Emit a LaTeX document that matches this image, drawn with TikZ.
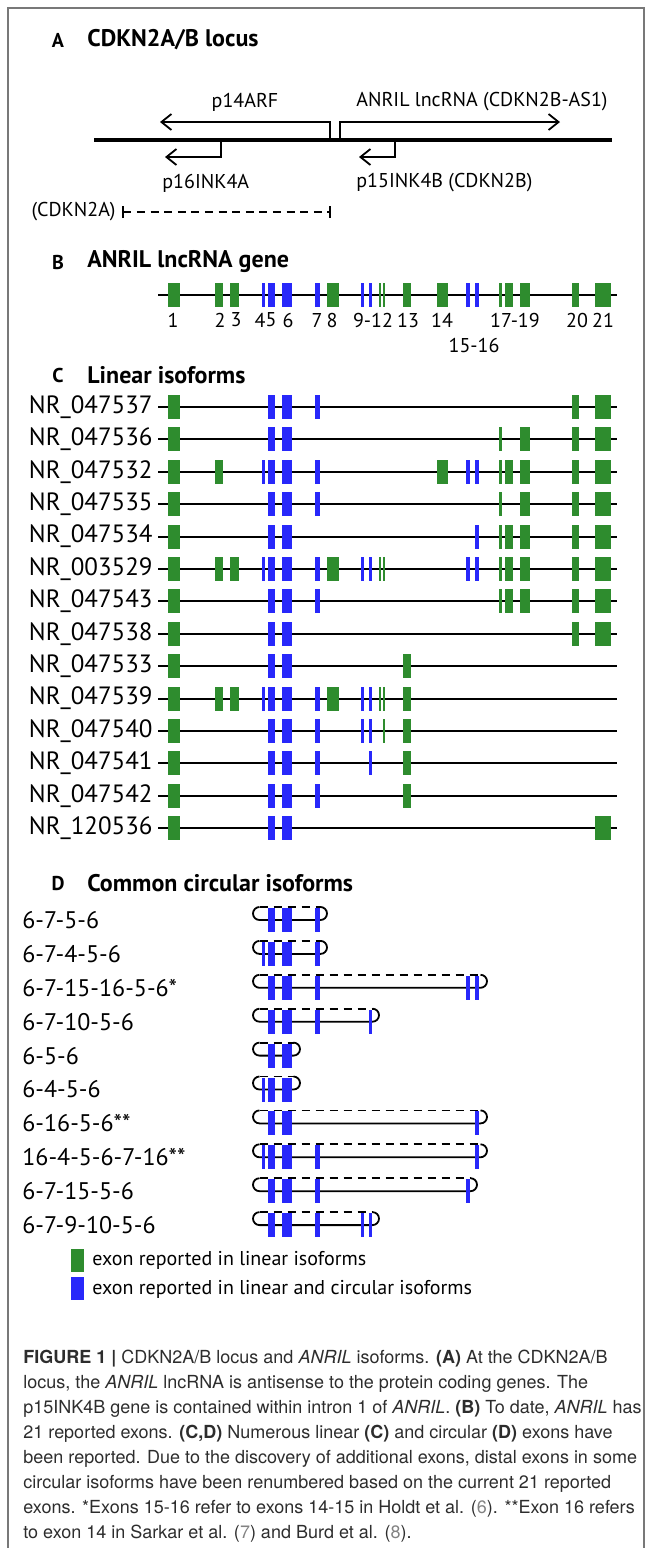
\documentclass[tikz,border=0pt]{standalone}
\usepackage{fontspec}
\setmainfont{PT Sans}
\newfontfamily\capfont{TeX Gyre Heros}
\usetikzlibrary{arrows.meta}

\definecolor{exgreen}{RGB}{46,140,46}
\definecolor{exblue}{RGB}{40,40,250}
\definecolor{framegray}{RGB}{120,120,120}
\definecolor{captext}{RGB}{45,45,45}
\definecolor{refgray}{RGB}{130,130,130}

% exon table: number, left, right, colour (pixel units)
\newcommand{\defexon}[4]{%
  \expandafter\def\csname exl#1\endcsname{#2}%
  \expandafter\def\csname exr#1\endcsname{#3}%
  \expandafter\def\csname exc#1\endcsname{#4}}
\defexon{1}{168}{180}{exgreen}
\defexon{2}{215}{223}{exgreen}
\defexon{3}{230}{239}{exgreen}
\defexon{4}{262}{265}{exblue}
\defexon{5}{268}{275}{exblue}
\defexon{6}{282}{292}{exblue}
\defexon{7}{315}{320}{exblue}
\defexon{8}{327}{339}{exgreen}
\defexon{9}{361}{364}{exblue}
\defexon{10}{369}{372}{exblue}
\defexon{11}{379}{381}{exgreen}
\defexon{12}{383}{385}{exgreen}
\defexon{13}{403}{411}{exgreen}
\defexon{14}{437}{448}{exgreen}
\defexon{15}{466}{470}{exblue}
\defexon{16}{475}{479}{exblue}
\defexon{17}{499}{502}{exgreen}
\defexon{18}{505}{513}{exgreen}
\defexon{19}{520}{530}{exgreen}
\defexon{20}{572}{579}{exgreen}
\defexon{21}{595}{611}{exgreen}
\newcommand{\exon}[2]{%
  \edef\exoncol{\csname exc#1\endcsname}%
  \fill[fill=\exoncol] ({\csname exl#1\endcsname},{#2-12}) rectangle ({\csname exr#1\endcsname},{#2+12});}

\begin{document}
\begin{tikzpicture}[
    x=0.5pt, y=-0.5pt,
    panel/.style={font=\fontsize{10}{12}\selectfont\bfseries, inner sep=0pt},
    heading/.style={font=\fontsize{12}{14}\selectfont\bfseries, anchor=west, inner sep=0pt},
    label/.style={font=\fontsize{10}{12}\selectfont, inner sep=0pt},
    rowlabel/.style={font=\fontsize{12.5}{14}\selectfont, inner sep=0pt, anchor=east},
    circlabel/.style={font=\fontsize{12}{14}\selectfont, inner sep=0pt, anchor=west},
    capline/.style={font=\capfont\fontsize{9}{12}\selectfont, text=captext, anchor=base west, inner sep=0pt},
    gene/.style={-{Straight Barb[length=5pt, width=8pt]}, line width=0.9pt},
    rowline/.style={line width=1pt},
    ringline/.style={line width=0.9pt},
    ringdash/.style={line width=0.9pt, dash pattern=on 4pt off 3pt}
  ]
    \useasboundingbox (0,0) rectangle (652,1548);
    \draw[framegray, line width=0.8pt] (8,1548) -- (8,8) -- (644,8) -- (644,1548);

    % A: locus
    \node[panel] (letA) at (58,40) {A};
    \node[heading] (headA) at (87,40) {CDKN2A/B locus};
    \coordinate (locL) at (94,140);
    \coordinate (locR) at (612,140);
    \draw[line width=2.2pt] (locL) -- (locR);
    \coordinate (arfS) at (330,140);
    \coordinate (arfE) at (160,122);
    \coordinate (anrS) at (340,140);
    \coordinate (anrE) at (560,122);
    \coordinate (p16S) at (221,140);
    \coordinate (p16E) at (165,157);
    \coordinate (p15S) at (395,140);
    \coordinate (p15E) at (359,157);
    \draw[gene] (arfS) |- (arfE);
    \draw[gene] (anrS) |- (anrE);
    \draw[gene] (p16S) |- (p16E);
    \draw[gene] (p15S) |- (p15E);
    \node[label] (arf) at (245,102) {p14ARF};
    \node[label, anchor=west] (anril) at (356,102) {ANRIL lncRNA (CDKN2B-AS1)};
    \node[label, anchor=west] (p16) at (162,183) {p16INK4A};
    \node[label, anchor=west] (p15) at (356,183) {p15INK4B (CDKN2B)};
    \coordinate (cdkL) at (122,212);
    \coordinate (cdkR) at (331,212);
    \node[label, anchor=east] (cdkn) at (116,212) {(CDKN2A)};
    \draw[line width=0.9pt, dash pattern=on 4pt off 2.8pt, {Bar[width=6pt]}-{Bar[width=6pt]}] (cdkL) -- (cdkR);

    % B: gene
    \node[panel] (letB) at (58,262) {B};
    \node[heading] (headB) at (87,262) {ANRIL lncRNA gene};
    \coordinate (geneL) at (158,295);
    \coordinate (geneR) at (617,295);
    \draw[rowline] (geneL) -- (geneR);
    \foreach \e in {1,...,21} {\exon{\e}{295}}
    \foreach \t/\x [count=\k] in {1/173, 2/220, 3/236, 4/260, 5/271, 6/288, 7/317, 8/332,
        9-12/373, 13/408, 14/442, 17-19/515, 20/577, 21/603}
      \node[label] (num\k) at (\x,320) {\t};
    \node[label] (num15) at (474,345) {15-16};

    % C: linear isoforms
    \node[panel] (letC) at (58,375) {C};
    \node[heading] (headC) at (87,375) {Linear isoforms};
    \foreach \lab/\exlist [count=\i from 0] in {
        NR\_047537/{1,5,6,7,20,21},
        NR\_047536/{1,5,6,17,19,20,21},
        NR\_047532/{1,2,4,5,6,7,14,15,16,17,18,19,20,21},
        NR\_047535/{1,5,6,7,17,19,20,21},
        NR\_047534/{1,5,6,16,17,18,19,20,21},
        NR\_003529/{1,2,3,4,5,6,7,8,9,10,11,12,15,16,17,18,19,20,21},
        NR\_047543/{1,5,6,7,17,18,19,20,21},
        NR\_047538/{1,5,6,20,21},
        NR\_047533/{1,5,6,13},
        NR\_047539/{1,2,3,4,5,6,7,8,9,10,11,12,13},
        NR\_047540/{1,5,6,7,9,10,12,13},
        NR\_047541/{1,5,6,7,10,13},
        NR\_047542/{1,5,6,7,13},
        NR\_120536/{1,5,6,21}} {
      \pgfmathsetmacro\yy{407+32.4*\i}
      \node[rowlabel] (lin\i) at (153,\yy) {\lab};
      \coordinate (linL\i) at (158,\yy);
      \coordinate (linR\i) at (617,\yy);
      \draw[rowline] (linL\i) -- (linR\i);
      \foreach \e in \exlist {\exon{\e}{\yy}}
    }

    % D: circular isoforms
    \node[panel] (letD) at (58,883) {D};
    \node[heading] (headD) at (87,883) {Common circular isoforms};
    \foreach \lab/\exlist/\re [count=\i from 0] in {
        6-7-5-6/{5,6,7}/327,
        6-7-4-5-6/{4,5,6,7}/327,
        6-7-15-16-5-6*/{5,6,7,15,16}/487,
        6-7-10-5-6/{5,6,7,10}/379,
        6-5-6/{5,6}/300,
        6-4-5-6/{4,5,6}/300,
        6-16-5-6**/{5,6,16}/487,
        16-4-5-6-7-16**/{4,5,6,7,16}/487,
        6-7-15-5-6/{5,6,7,15}/477,
        6-7-9-10-5-6/{5,6,7,9,10}/379} {
      \pgfmathsetmacro\yy{920+33.9*\i}
      \node[circlabel] (circ\i) at (22,\yy) {\lab};
      \draw[ringline] (259.5,\yy-13) arc[start angle=90, end angle=270, radius=3.25pt]
        -- (\re-6.5,\yy) arc[start angle=-90, end angle=90, radius=3.25pt];
      \draw[ringdash] (259.5,\yy-13) -- (\re-6.5,\yy-13);
      \foreach \e in \exlist {\exon{\e}{\yy}}
    }

    % legend
    \fill[exgreen] (71,1249) rectangle (84,1272);
    \fill[exblue] (71,1277) rectangle (84,1300);
    \node[label, anchor=west] (keyG) at (92,1260) {exon reported in linear isoforms};
    \node[label, anchor=west] (keyB) at (92,1289) {exon reported in linear and circular isoforms};

    % caption
    \foreach \txt [count=\k from 0] in {
        {\textbf{FIGURE 1 |} CDKN2A/B locus and \textit{ANRIL} isoforms. \textbf{(A)} At the CDKN2A/B},
        {locus, the \textit{ANRIL} lncRNA is antisense to the protein coding genes. The},
        {p15INK4B gene is contained within intron 1 of \textit{ANRIL}. \textbf{(B)} To date, \textit{ANRIL} has},
        {21 reported exons. \textbf{(C,D)} Numerous linear \textbf{(C)} and circular \textbf{(D)} exons have},
        {been reported. Due to the discovery of additional exons, distal exons in some},
        {circular isoforms have been renumbered based on the current 21 reported},
        {exons. *Exons 15-16 refer to exons 14-15 in Holdt et al. (\textcolor{refgray}{6}). **Exon 16 refers},
        {to exon 14 in Sarkar et al. (\textcolor{refgray}{7}) and Burd et al. (\textcolor{refgray}{8}).}}
      \node[capline] (cap\k) at (23,1363.5+25*\k) {\txt};
\end{tikzpicture}
\end{document}
